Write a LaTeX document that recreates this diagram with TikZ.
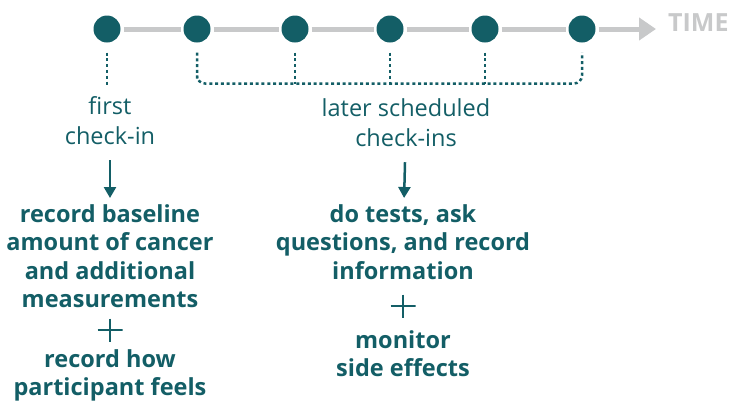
\documentclass[tikz,border=0pt]{standalone}
\usepackage{fontspec}
\setmainfont{Open Sans}
\usetikzlibrary{arrows.meta}
\definecolor{teal}{HTML}{135E66}
\definecolor{timegray}{HTML}{C8C9CA}
\tikzset{
  visit/.style={circle,fill=teal,minimum size=27pt,inner sep=0pt,outer sep=3pt},
  note/.style={text=teal,align=center,inner sep=0pt,font=\fontsize{23.5}{30}\selectfont},
  task/.style={text=teal,align=center,inner sep=0pt,font=\bfseries\fontsize{23.5}{28.5}\selectfont},
  plus/.style={minimum width=25pt,minimum height=23pt,inner sep=0pt,
    path picture={\draw[teal,line width=2pt]
      (path picture bounding box.north) -- (path picture bounding box.south)
      (path picture bounding box.west) -- (path picture bounding box.east);}},
  link/.style={teal,line width=2.5pt,dash pattern=on 3pt off 2.8pt},
  down/.style={teal,line width=2.5pt,-{Triangle[width=12pt,length=11pt]}}
}
\begin{document}
\begin{tikzpicture}[x=1pt,y=-1pt]
 \useasboundingbox (0,0) rectangle (731,408);
 \node[visit] (t1) at (107,29) {};
 \node[visit] (t2) at (197,29) {};
 \node[visit] (t3) at (295,29) {};
 \node[visit] (t4) at (390,29) {};
 \node[visit] (t5) at (485,29) {};
 \node[visit] (t6) at (582,29) {};
 \coordinate (tend) at (656,29);
 \node[anchor=west,text=timegray,inner sep=0pt,font=\bfseries\fontsize{25}{25}\selectfont] (time) at (668,23) {TIME};
 \draw[timegray,line width=5pt] (t1) -- (t2) -- (t3) -- (t4) -- (t5) -- (t6);
 \draw[timegray,line width=5pt,-{Triangle[width=22pt,length=17pt]}] (t6) -- (tend);
 % dashed ties
 \draw[link] ([yshift=-7pt]t1.south) -- ++(0,33);
 \draw[link,rounded corners=8pt] ([yshift=-7pt]t2.south) |- ++(0,31) -| ([yshift=-7pt]t6.south);
 \foreach \i in {3,4,5}
   \draw[link] ([yshift=-7pt]t\i.south) -- ++(0,31);
 % labels
 \node[note] (first) at (110,121) {first\\check-in};
 \node[note] (later) at (406,123) {later scheduled\\check-ins};
 \node[task,anchor=north] (base) at (110,204) {record baseline\\amount of cancer\\and additional\\measurements};
 \node[plus] (p1) at (110,330) {};
 \node[task,anchor=north] (feel) at (110,349) {record how\\participant feels};
 \node[task,anchor=north] (tests) at (403,204) {do tests, ask\\questions, and record\\information};
 \node[plus] (p2) at (403,306) {};
 \node[task,anchor=north] (side) at (403,330) {monitor\\side effects};
 \draw[down,shorten <=15pt,shorten >=6pt] (first) -- (base);
 \draw[down,shorten <=15pt,shorten >=6pt] (later) -- (tests);
\end{tikzpicture}
\end{document}
